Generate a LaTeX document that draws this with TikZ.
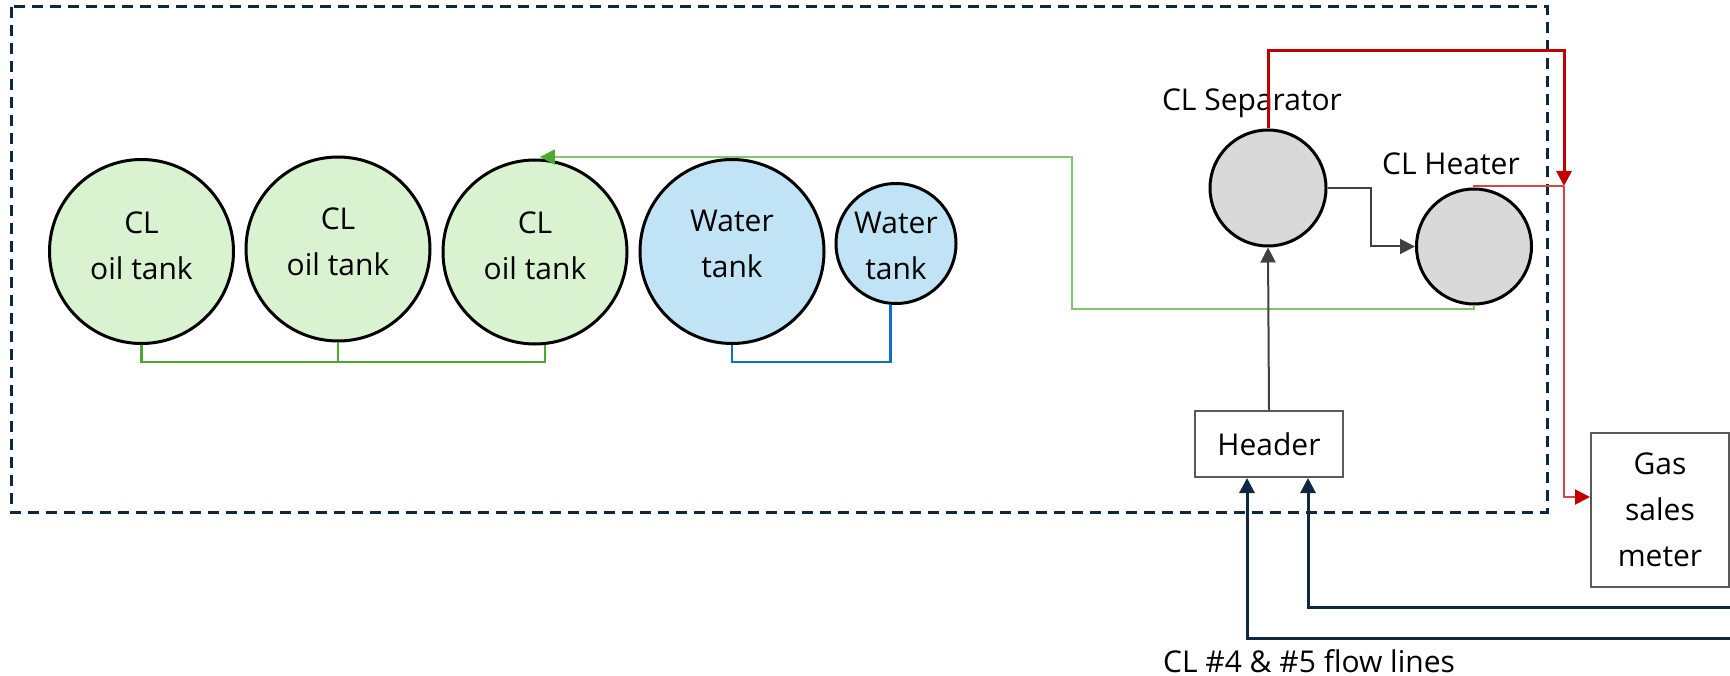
\documentclass[tikz,border=0pt]{standalone}
\usepackage{fontspec}
\setmainfont{Open Sans}
\usetikzlibrary{arrows.meta}
\definecolor{navy}{HTML}{0E2841}
\definecolor{tankgreen}{HTML}{D9F2D0}
\definecolor{tankblue}{HTML}{C0E4F5}
\definecolor{vesselgray}{HTML}{D9D9D9}
\definecolor{pipegreen}{HTML}{4EA72E}
\definecolor{lightpipegreen}{HTML}{84C46C}
\definecolor{pipeblue}{HTML}{0F6FC6}
\definecolor{gasred}{HTML}{C00000}
\definecolor{lightred}{HTML}{D94545}
\definecolor{boxgray}{HTML}{595959}
\definecolor{linegray}{HTML}{404040}
\begin{document}
\begin{tikzpicture}[x=1pt,y=-1pt,
  font=\fontsize{30}{46}\selectfont,
  vessel/.style={circle, draw=black, line width=3pt, inner sep=0pt},
  oiltank/.style={vessel, fill=tankgreen, minimum size=184pt},
  watertank/.style={vessel, fill=tankblue},
  procvessel/.style={vessel, fill=vesselgray},
  tanktext/.style={align=center, inner sep=0pt},
  unitbox/.style={rectangle, draw=boxgray, line width=2pt, align=center, inner sep=0pt},
  arrowtip/.style={-{Triangle[length=15pt,width=15pt]}},
  greenbus/.style={draw=pipegreen, line width=2.5pt},
  bluebus/.style={draw=pipeblue, line width=2.5pt},
  recycle/.style={draw=lightpipegreen, line width=1.5pt, -{Triangle[length=15pt,width=15pt,color=pipegreen]}},
  gasthick/.style={draw=gasred, line width=3pt},
  gasthin/.style={draw=lightred, line width=2pt},
  flowline/.style={draw=navy, line width=3pt},
  procline/.style={draw=linegray, line width=2pt},
  boundary/.style={draw=navy, line width=3pt, dash pattern=on 11pt off 7pt}
]
\useasboundingbox (0,0) rectangle (1730,676);

% boundary of the site
\draw[boundary] (11,7) rectangle (1547,512);

% tanks
\node[oiltank] (t1) at (141.5,251.5) {};
\node[oiltank] (t2) at (338,249) {};
\node[oiltank] (t3) at (535,252) {};
\node[watertank, minimum size=184pt] (w1) at (732,251.5) {};
\node[watertank, minimum size=120pt] (w2) at (896,243.5) {};
\node[tanktext] (t1text) at (141.5,246) {CL\\oil tank};
\node[tanktext] (t2text) at (338,242) {CL\\oil tank};
\node[tanktext] (t3text) at (535,245.5) {CL\\oil tank};
\node[tanktext] (w1text) at (732,244) {Water\\tank};
\node[tanktext] (w2text) at (896,246) {Water\\tank};

% process vessels
\node[procvessel, minimum size=116pt] (sep) at (1268,188) {};
\node[procvessel, minimum size=115pt] (heat) at (1474,246.5) {};
\node[anchor=base] (seplabel) at (1252,111) {CL Separator};
\node[anchor=base] (heatlabel) at (1451,175) {CL Heater};

% boxes
\node[unitbox, minimum width=148pt, minimum height=66pt] (hdr) at (1269,444) {Header};
\node[unitbox, minimum width=138pt, minimum height=154pt] (gas) at (1660,510) {Gas\\sales\\meter};
\node[anchor=base] (flowlabel) at (1309,672) {CL \#4 \& \#5 flow lines};

% helper coordinates
\coordinate (busy) at (0,362);
\coordinate (recx) at (1072,0);
\coordinate (recy) at (0,157);
\coordinate (recbot) at (0,309);
\coordinate (gastop) at (1564,51);
\coordinate (junc) at (1564,186);
\coordinate (gasin) at (0,497);
\coordinate (shx) at (1371,0);
\coordinate (fl1) at (1731,638);
\coordinate (fl2) at (1731,607);

% tank manifolds
\draw[greenbus] (t1.south) |- (t3.-84 |- busy) -- (t3.-84);
\draw[greenbus] (t2.south) -- (t2.south |- busy);
\draw[bluebus] (w1.south) |- (w2.-95 |- busy) -- (w2.-95);

% oil recycle line from heater to tanks
\draw[recycle] (heat.south) |- (recx |- recbot) -- (recx |- recy) -- (t3.87 |- recy);

% header to separator to heater
\draw[procline, arrowtip] (hdr.north) -- (sep.south);
\draw[procline, arrowtip] (sep.east) -| (shx |- heat.west) -- (heat.west);

% gas lines
\draw[gasthick, -{Triangle[length=15pt,width=15pt,color=gasred]}] (sep.north) |- (gastop) -- (junc);
\draw[gasthin] (heat.north) |- (junc);
\draw[gasthin, -{Triangle[length=15pt,width=15pt,color=gasred]}] (junc) |- (gas.west |- gasin);

% flow lines into header
\draw[flowline, arrowtip] (fl1) -| ([xshift=-22pt]hdr.south);
\draw[flowline, arrowtip] (fl2) -| ([xshift=39pt]hdr.south);
\end{tikzpicture}
\end{document}
